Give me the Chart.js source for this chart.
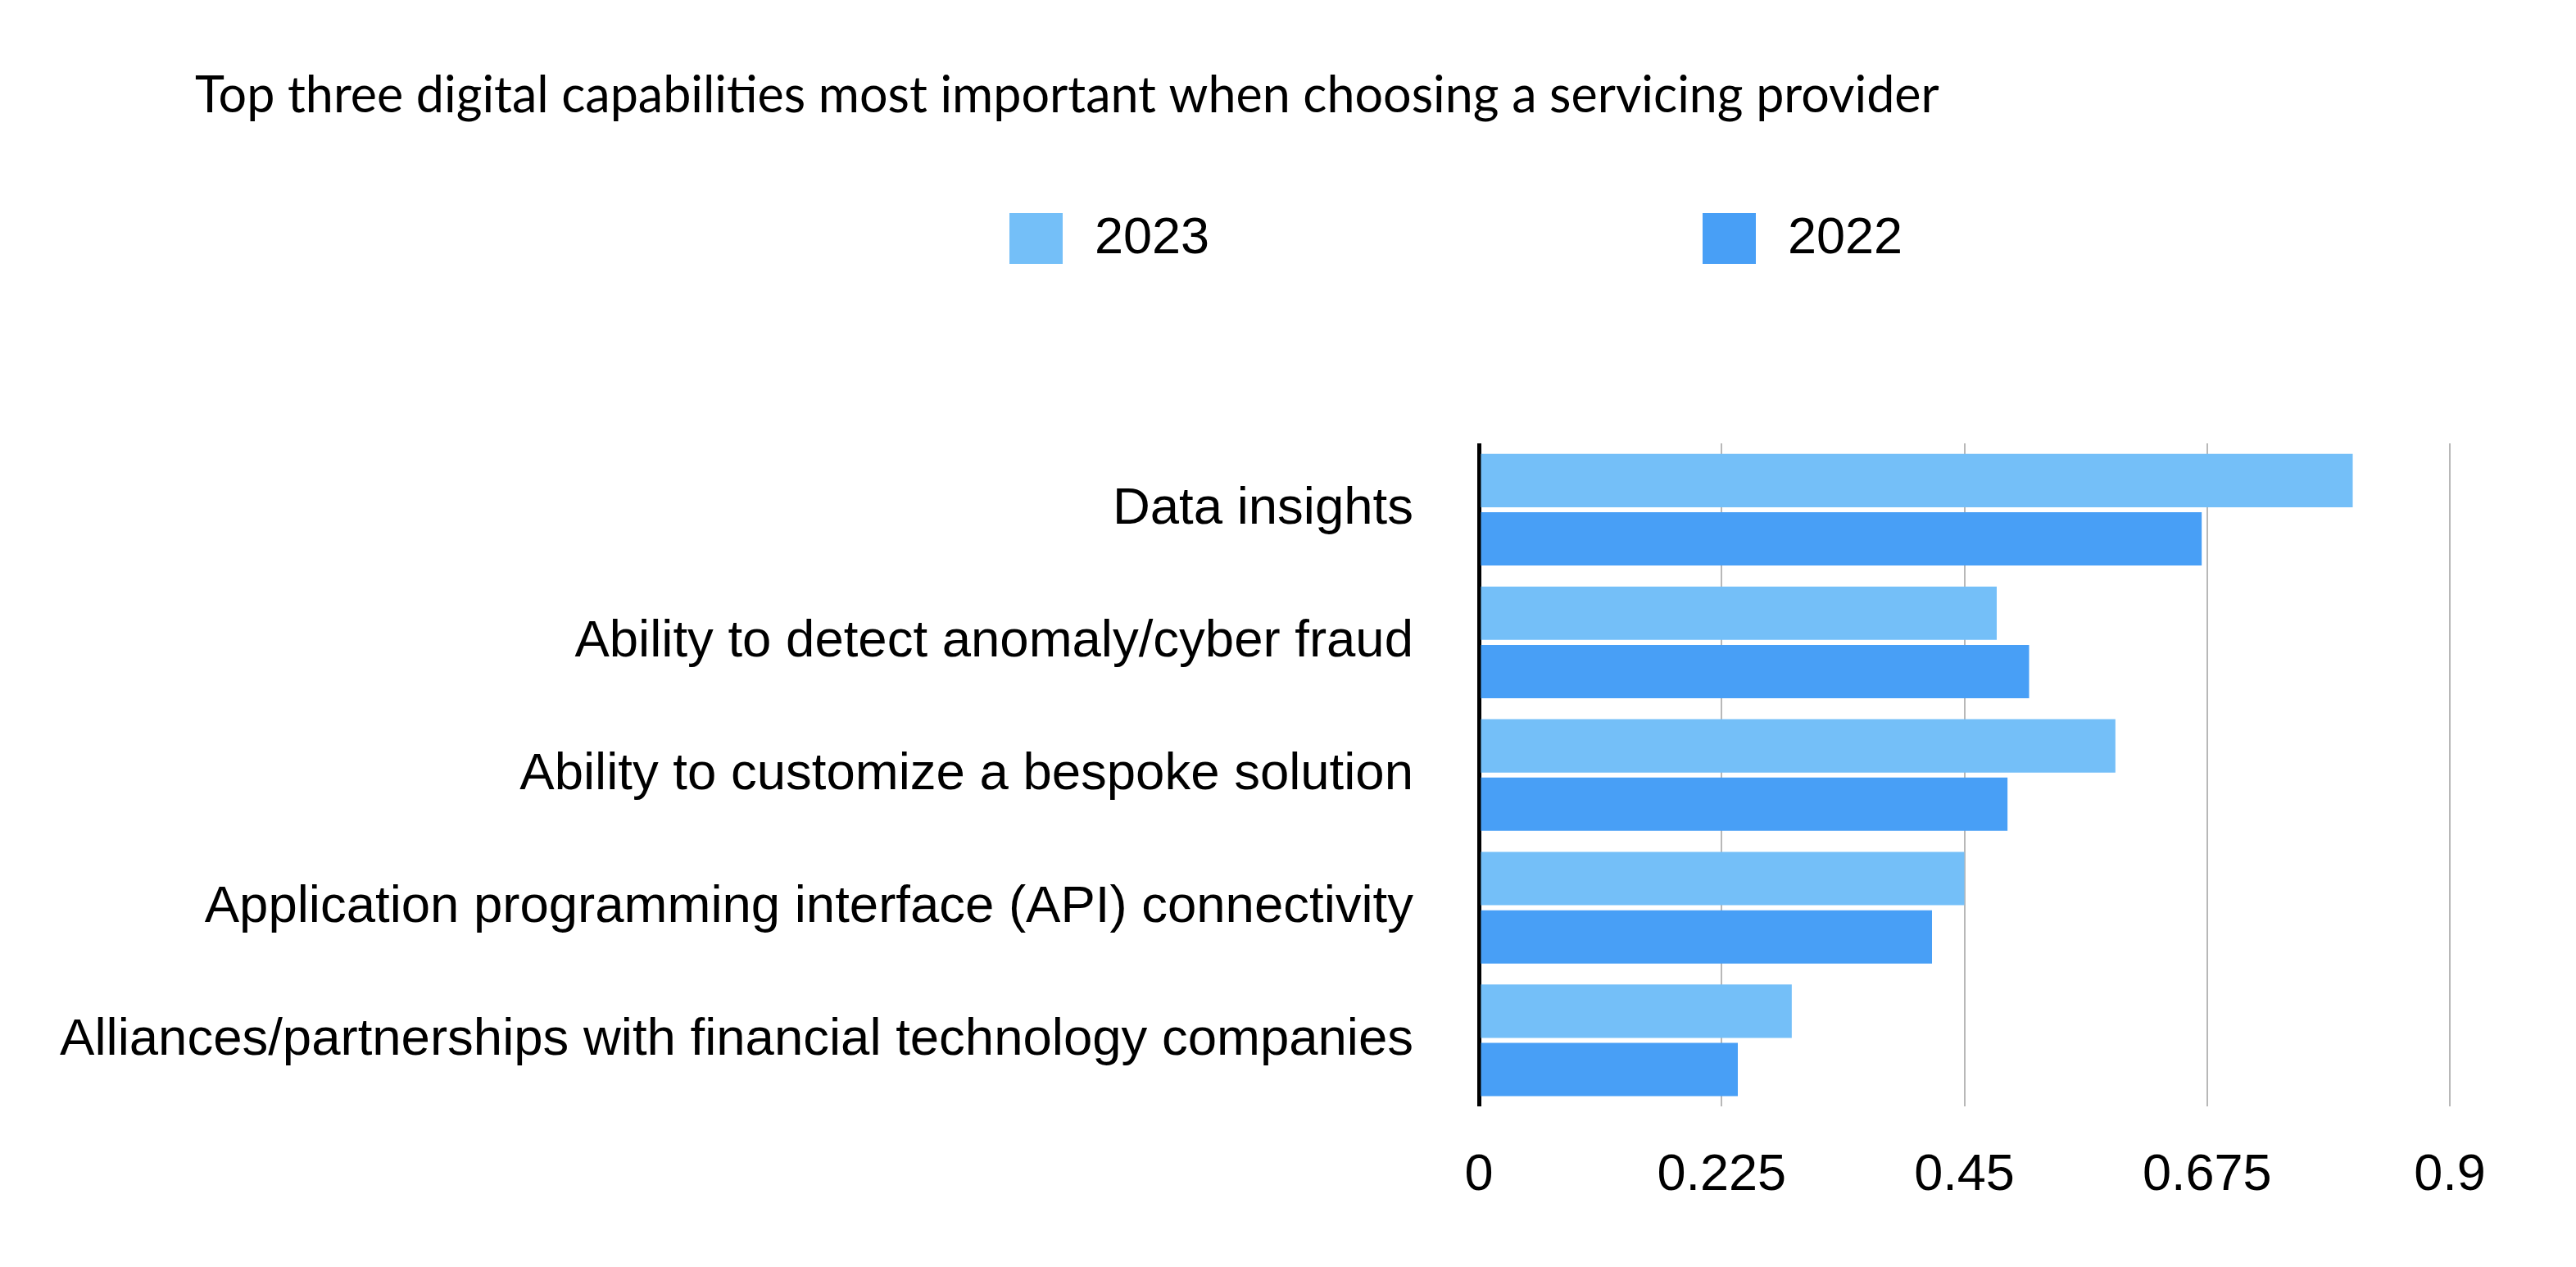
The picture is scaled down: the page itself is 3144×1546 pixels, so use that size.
<!DOCTYPE html>
<html>
<head>
<meta charset="utf-8">
<script src="https://cdn.jsdelivr.net/npm/chart.js@4.4.1/dist/chart.umd.min.js"></script>
<style>
  html, body { margin: 0; padding: 0; background: #fff; }
  #wrap { width: 3144px; height: 1546px; }
</style>
</head>
<body>
<div id="wrap"><canvas id="chart" width="3144" height="1546"></canvas></div>
<script>
// data
const categories = [
    "Data insights",
    "Ability to detect anomaly/cyber fraud",
    "Ability to customize a bespoke solution",
    "Application programming interface (API) connectivity",
    "Alliances/partnerships with financial technology companies"
];
const values2023 = [0.81, 0.48, 0.59, 0.45, 0.29];
const values2022 = [0.67, 0.51, 0.49, 0.42, 0.24];
const xTickValues = [0, 0.225, 0.45, 0.675, 0.9];
const xTickLabels = ["0", "0.225", "0.45", "0.675", "0.9"];
const seriesNames = ["2023", "2022"];
const titleText = "Top three digital capabilities most important when choosing a servicing provider";

const LABEL_FONT = '"Liberation Sans", Arial, sans-serif';

// title + wide-spaced legend, drawn by hand
const headerPlugin = {
    id: 'header',
    afterDraw(chart) {
        const ctx = chart.ctx;
        ctx.save();
        ctx.fillStyle = '#000';
        ctx.textBaseline = 'middle';
        ctx.textAlign = 'left';
        ctx.font = '61px Lato, "Open Sans", sans-serif';
        ctx.fillText(titleText, 238, 117);

        const legendX = [1232, 2078];
        ctx.font = '63px ' + LABEL_FONT;
        chart.data.datasets.forEach((ds, i) => {
            ctx.fillStyle = ds.backgroundColor;
            ctx.fillRect(legendX[i], 260, 65, 62);
            ctx.fillStyle = '#000';
            ctx.fillText(ds.label, legendX[i] + 104, 292);
        });
        ctx.restore();
    }
};

new Chart(document.getElementById('chart'), {
    type: 'bar',
    data: {
        labels: categories,
        datasets: [
            { label: seriesNames[0], data: values2023, backgroundColor: '#74bff8' },
            { label: seriesNames[1], data: values2022, backgroundColor: '#489ff6' }
        ]
    },
    options: {
        indexAxis: 'y',
        responsive: false,
        animation: false,
        devicePixelRatio: 1,
        layout: { padding: { top: 541, right: 154, bottom: 28, left: 0 } },
        datasets: {
            bar: { categoryPercentage: 0.88, barPercentage: 0.914, borderWidth: 0 }
        },
        plugins: {
            legend: { display: false },
            title: { display: false },
            tooltip: { enabled: false }
        },
        scales: {
            x: {
                min: 0,
                max: 0.9,
                afterBuildTicks: axis => { axis.ticks = xTickValues.map(v => ({ value: v })); },
                ticks: {
                    padding: 46,
                    color: '#000',
                    font: { family: LABEL_FONT, size: 63 },
                    callback: (v, i) => xTickLabels[i]
                },
                grid: {
                    drawTicks: false,
                    color: c => (c.tick && c.tick.value === 0) ? '#000' : '#b8b8b8',
                    lineWidth: c => (c.tick && c.tick.value === 0) ? 5 : 2
                },
                border: { display: false }
            },
            y: {
                afterFit: scale => { scale.width = 1805; },
                ticks: {
                    padding: 80,
                    color: '#000',
                    font: { family: LABEL_FONT, size: 63.5 }
                },
                grid: { display: false, drawTicks: false },
                border: { display: false }
            }
        }
    },
    plugins: [headerPlugin]
});
</script>
</body>
</html>
